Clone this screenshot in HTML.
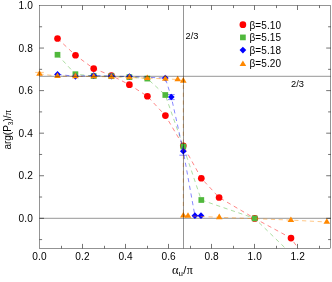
<!DOCTYPE html><html><head><meta charset="utf-8"><style>html,body{margin:0;padding:0;background:#fff;overflow:hidden}svg{display:block;position:absolute;left:0;top:0}text{font-family:"Liberation Sans",sans-serif;fill:#000}</style></head><body><div style="will-change:transform;position:absolute;left:0;top:0;width:332px;height:282px">
<svg width="332" height="282" viewBox="0 0 332 282">
<rect width="332" height="282" fill="#fff"/>
<defs><clipPath id="c"><rect x="39.5" y="5.5" width="291.2" height="242.9"/></clipPath></defs>
<g stroke="#000" stroke-width="0.42" fill="none"><path d="M39.5 218.3H330.7"/></g>
<g clip-path="url(#c)">
<polyline points="57.5,38.5 75.5,55.25 93.7,68.6 111.4,75.5 129.4,84.7 147.4,96.25 165.4,115.6 183.3,145.8 201.3,178.25 219.1,197.5 254.7,218.4 291,238.1 309,264" fill="none" stroke="#ff0000" stroke-width="0.48" stroke-dasharray="4.2 3.6"/>
<circle cx="57.5" cy="38.5" r="3.35" fill="#ff0000"/>
<circle cx="75.5" cy="55.25" r="3.35" fill="#ff0000"/>
<circle cx="93.7" cy="68.6" r="3.35" fill="#ff0000"/>
<circle cx="111.4" cy="75.5" r="3.35" fill="#ff0000"/>
<circle cx="129.4" cy="84.7" r="3.35" fill="#ff0000"/>
<circle cx="147.4" cy="96.25" r="3.35" fill="#ff0000"/>
<circle cx="165.4" cy="115.6" r="3.35" fill="#ff0000"/>
<circle cx="183.3" cy="145.8" r="3.35" fill="#ff0000"/>
<circle cx="201.3" cy="178.25" r="3.35" fill="#ff0000"/>
<circle cx="219.1" cy="197.5" r="3.35" fill="#ff0000"/>
<circle cx="254.7" cy="218.4" r="3.35" fill="#ff0000"/>
<circle cx="291" cy="238.1" r="3.35" fill="#ff0000"/>
<circle cx="309" cy="264" r="3.35" fill="#ff0000"/>
<polyline points="57.5,54.75 75.4,74.2 93.7,76 111.4,76.2 129.4,77.1 147.3,78.6 165.3,95 183.3,146.5 201.3,200 254.7,218.4 290.6,253.3" fill="none" stroke="#50b83c" stroke-width="0.48" stroke-dasharray="4.2 3.6"/>
<rect x="54.65" y="51.9" width="5.7" height="5.7" fill="#50b83c"/>
<rect x="72.55" y="71.35" width="5.7" height="5.7" fill="#50b83c"/>
<rect x="90.85" y="73.15" width="5.7" height="5.7" fill="#50b83c"/>
<rect x="108.55" y="73.35" width="5.7" height="5.7" fill="#50b83c"/>
<rect x="126.55" y="74.25" width="5.7" height="5.7" fill="#50b83c"/>
<rect x="144.45" y="75.75" width="5.7" height="5.7" fill="#50b83c"/>
<rect x="162.45" y="92.15" width="5.7" height="5.7" fill="#50b83c"/>
<rect x="180.45" y="143.65" width="5.7" height="5.7" fill="#50b83c"/>
<rect x="198.45" y="197.15" width="5.7" height="5.7" fill="#50b83c"/>
<rect x="251.85" y="215.55" width="5.7" height="5.7" fill="#50b83c"/>
<rect x="287.75" y="250.45" width="5.7" height="5.7" fill="#50b83c"/>
<polyline points="57.5,74.4 75.4,76.3 93.7,75.6 111.4,76.2 129.4,76.5 165.3,78.1 171.3,97 183.3,151.2 194.9,215.7 201,215.7" fill="none" stroke="#0000ff" stroke-width="0.48" stroke-dasharray="4.2 3.6"/>
<path d="M183.3 146V155.2M179.4 155.2H187.2M171.3 94.6V99.6M167.9 94.6H174.7M167.9 99.6H174.7" stroke="#0000ff" stroke-width="0.48" fill="none"/>
<path d="M57.5 71.05L60.85 74.4L57.5 77.75L54.15 74.4z" fill="#0000ff"/>
<path d="M75.4 72.95L78.75 76.3L75.4 79.65L72.05 76.3z" fill="#0000ff"/>
<path d="M93.7 72.25L97.05 75.6L93.7 78.95L90.35 75.6z" fill="#0000ff"/>
<path d="M111.4 72.85L114.75 76.2L111.4 79.55L108.05 76.2z" fill="#0000ff"/>
<path d="M129.4 73.15L132.75 76.5L129.4 79.85L126.05 76.5z" fill="#0000ff"/>
<path d="M165.3 74.75L168.65 78.1L165.3 81.45L161.95 78.1z" fill="#0000ff"/>
<path d="M171.3 93.65L174.65 97L171.3 100.35L167.95 97z" fill="#0000ff"/>
<path d="M183.3 147.85L186.65 151.2L183.3 154.55L179.95 151.2z" fill="#0000ff"/>
<path d="M194.9 212.35L198.25 215.7L194.9 219.05L191.55 215.7z" fill="#0000ff"/>
<path d="M201 212.35L204.35 215.7L201 219.05L197.65 215.7z" fill="#0000ff"/>
</g>
<polyline points="39.5,73.9 57.5,76.1 75.4,76.3 93.7,76.5 111.4,76.8 129.4,77.5 147.3,78.2 165.3,78.8 177.7,79.5 183.3,80.8 183.3,215.6 188,215.9 219.25,217.3 290.9,220.1 326.8,222" fill="none" stroke="#ff8800" stroke-width="0.48" stroke-dasharray="4.2 3.6"/>
<path d="M35.2 72.4H43.8" stroke="#ff8800" stroke-width="0.48" fill="none"/>
<path d="M39.5 70.2L42.8 75.75L36.2 75.75z" fill="#ff8800"/>
<path d="M57.5 72.4L60.8 77.95L54.2 77.95z" fill="#ff8800"/>
<path d="M75.4 72.6L78.7 78.15L72.1 78.15z" fill="#ff8800"/>
<path d="M93.7 72.8L97 78.35L90.4 78.35z" fill="#ff8800"/>
<path d="M111.4 73.1L114.7 78.65L108.1 78.65z" fill="#ff8800"/>
<path d="M129.4 73.8L132.7 79.35L126.1 79.35z" fill="#ff8800"/>
<path d="M147.3 74.5L150.6 80.05L144 80.05z" fill="#ff8800"/>
<path d="M165.3 75.1L168.6 80.65L162 80.65z" fill="#ff8800"/>
<path d="M177.7 75.8L181 81.35L174.4 81.35z" fill="#ff8800"/>
<path d="M183.3 77.1L186.6 82.65L180 82.65z" fill="#ff8800"/>
<path d="M183.3 211.9L186.6 217.45L180 217.45z" fill="#ff8800"/>
<path d="M188 212.2L191.3 217.75L184.7 217.75z" fill="#ff8800"/>
<path d="M219.25 213.6L222.55 219.15L215.95 219.15z" fill="#ff8800"/>
<path d="M290.9 216.4L294.2 221.95L287.6 221.95z" fill="#ff8800"/>
<path d="M326.8 218.3L330.1 223.85L323.5 223.85z" fill="#ff8800"/>
<g stroke="#000" stroke-width="0.42" fill="none">
<path d="M39.5 76.3H330.7"/>
<path d="M183.5 5.5V248.4"/>
</g>
<g stroke="#000" stroke-width="0.42" fill="none">
<rect x="39.5" y="5.5" width="291.2" height="242.9"/>
<path stroke-width="0.55" d="M61.50 248.4v-2.6M61.50 5.5v2.6M82.50 248.4v-4.5M82.50 5.5v4.5M104.50 248.4v-2.6M104.50 5.5v2.6M125.50 248.4v-4.5M125.50 5.5v4.5M147.50 248.4v-2.6M147.50 5.5v2.6M168.50 248.4v-4.5M168.50 5.5v4.5M190.50 248.4v-2.6M190.50 5.5v2.6M211.50 248.4v-4.5M211.50 5.5v4.5M233.50 248.4v-2.6M233.50 5.5v2.6M254.50 248.4v-4.5M254.50 5.5v4.5M276.50 248.4v-2.6M276.50 5.5v2.6M297.50 248.4v-4.5M297.50 5.5v4.5M319.50 248.4v-2.6M319.50 5.5v2.6M39.5 239.58h2.6M330.7 239.58h-2.6M39.5 218.30h4.5M330.7 218.30h-4.5M39.5 197.02h2.6M330.7 197.02h-2.6M39.5 175.74h4.5M330.7 175.74h-4.5M39.5 154.46h2.6M330.7 154.46h-2.6M39.5 133.18h4.5M330.7 133.18h-4.5M39.5 111.90h2.6M330.7 111.90h-2.6M39.5 90.62h4.5M330.7 90.62h-4.5M39.5 69.34h2.6M330.7 69.34h-2.6M39.5 48.06h4.5M330.7 48.06h-4.5M39.5 26.78h2.6M330.7 26.78h-2.6"/>
</g>
<g font-size="10.15px" letter-spacing="0.1">
<text x="39.50" y="260" text-anchor="middle">0.0</text>
<text x="82.54" y="260" text-anchor="middle">0.2</text>
<text x="125.58" y="260" text-anchor="middle">0.4</text>
<text x="168.62" y="260" text-anchor="middle">0.6</text>
<text x="211.66" y="260" text-anchor="middle">0.8</text>
<text x="254.70" y="260" text-anchor="middle">1.0</text>
<text x="297.74" y="260" text-anchor="middle">1.2</text>
<text x="33" y="221.90" text-anchor="end">0.0</text>
<text x="33" y="179.34" text-anchor="end">0.2</text>
<text x="33" y="136.78" text-anchor="end">0.4</text>
<text x="33" y="94.22" text-anchor="end">0.6</text>
<text x="33" y="51.66" text-anchor="end">0.8</text>
<text x="33" y="9.10" text-anchor="end">1.0</text>
</g>
<text font-size="9.3px" x="185.6" y="38.7">2/3</text>
<text font-size="9.3px" x="291" y="87">2/3</text>
<circle cx="242.9" cy="24.7" r="3.35" fill="#ff0000"/>
<rect x="240.05" y="34.55" width="5.7" height="5.7" fill="#50b83c"/>
<path d="M242.9 46.75L246.25 50.1L242.9 53.45L239.55 50.1z" fill="#0000ff"/>
<path d="M242.9 60.4L246.2 65.95L239.6 65.95z" fill="#ff8800"/>
<text font-size="10px" letter-spacing="0.1" x="249.5" y="28.7">β=5.10</text>
<text font-size="10px" letter-spacing="0.1" x="249.5" y="41.45">β=5.15</text>
<text font-size="10px" letter-spacing="0.1" x="249.5" y="54.2">β=5.18</text>
<text font-size="10px" letter-spacing="0.1" x="249.5" y="66.95">β=5.20</text>
<text font-size="11px" x="172" y="273.7"><tspan font-family="Liberation Serif" font-size="12.5px">α</tspan><tspan font-size="8px" dy="2.2">u</tspan><tspan dy="-2.2" dx="0.3">/</tspan><tspan font-family="Liberation Serif" font-size="12px" dx="0.3">π</tspan></text>
<text font-size="10px" transform="translate(10.6 149.6) rotate(-90)">arg(P<tspan font-size="6.5px" dy="2">3</tspan><tspan dy="-2">)/</tspan><tspan font-family="Liberation Serif" font-size="11px">π</tspan></text>
</svg></div></body></html>
